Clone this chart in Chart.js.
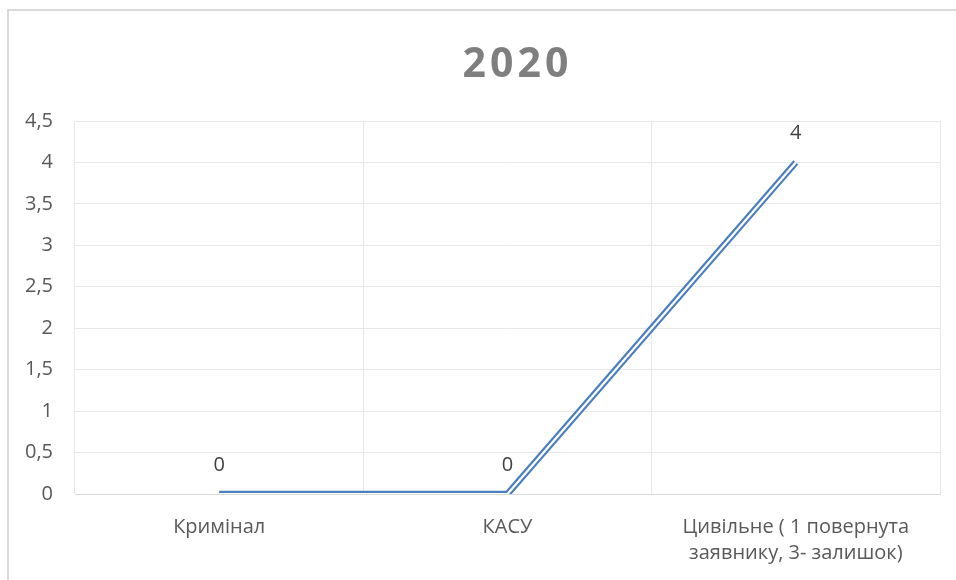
<!DOCTYPE html>
<html>
<head>
<meta charset="utf-8">
<script src="https://cdn.jsdelivr.net/npm/chart.js@4/dist/chart.umd.min.js"></script>
<style>
    body { margin: 0; background: #fff; }
    #frame { position: absolute; left: 7px; top: 9px; width: 960px; height: 590px; border: 2px solid #d9d9d9; box-sizing: border-box; }
    #wrap { position: absolute; left: 0; top: 0; width: 956px; height: 580px; }
</style>
</head>
<body>
<div id="frame"></div>
<div id="wrap"><canvas id="chart"></canvas></div>
<script>
// Data
const categories = ['Кримінал', 'КАСУ', ['Цивільне ( 1 повернута', 'заявнику, 3- залишок)']];
const values = [0, 0, 4];
const chartTitle = '2020';

const textColor = '#595959';
const gridColor = '#e8e8e8';
const lineBlue = '#4a7ebf';

// Title drawn by hand so it can sit a little right of centre, with letter spacing
const titleDraw = {
    id: 'titleDraw',
    afterDraw(chart) {
        const ctx = chart.ctx;
        const area = chart.chartArea;
        ctx.save();
        ctx.font = 'bold 41px "Open Sans"';
        ctx.letterSpacing = '4px';
        ctx.fillStyle = '#7f7f7f';
        ctx.textAlign = 'center';
        ctx.textBaseline = 'alphabetic';
        ctx.fillText(chartTitle, (area.left + area.right) / 2 + 10, 77);
        ctx.restore();
    }
};

// Value labels above points
const valueLabels = {
    id: 'valueLabels',
    afterDatasetsDraw(chart) {
        const ctx = chart.ctx;
        const meta = chart.getDatasetMeta(0);
        ctx.save();
        ctx.font = '20px "Open Sans"';
        ctx.fillStyle = '#404040';
        ctx.textAlign = 'center';
        ctx.textBaseline = 'middle';
        meta.data.forEach((pt, i) => {
            ctx.fillText(String(values[i]).replace('.', ','), pt.x, pt.y - 29);
        });
        ctx.restore();
    }
};

new Chart(document.getElementById('chart'), {
    type: 'line',
    data: {
        labels: categories,
        datasets: [{
            data: values,
            borderColor: '#fff',
            borderWidth: 2.2,
            pointRadius: 0,
            tension: 0,
            borderJoinStyle: 'miter',
            order: 0
        }, {
            data: values,
            borderColor: lineBlue,
            borderWidth: 6.5,
            pointRadius: 0,
            tension: 0,
            borderJoinStyle: 'miter',
            order: 1
        }]
    },
    options: {
        responsive: true,
        maintainAspectRatio: false,
        animation: false,
        layout: {
            padding: { left: 0, right: 16, top: 121, bottom: 0 }
        },
        plugins: {
            legend: { display: false },
            tooltip: { enabled: false },
            title: { display: false }
        },
        scales: {
            x: {
                offset: true,
                grid: { offset: true, color: gridColor, drawTicks: false },
                border: { color: '#d9d9d9' },
                ticks: {
                    color: textColor,
                    font: { family: '"Open Sans"', size: 20, lineHeight: 1.3 },
                    padding: 20,
                    maxRotation: 0,
                    autoSkip: false
                },
                afterFit: s => { s.height = 86; }
            },
            y: {
                min: 0,
                max: 4.5,
                grid: { color: gridColor, drawTicks: false },
                border: { display: false },
                ticks: {
                    stepSize: 0.5,
                    color: textColor,
                    font: { family: '"Open Sans"', size: 20 },
                    padding: 22,
                    callback: v => String(v).replace('.', ',')
                },
                afterFit: s => { s.width = 75; }
            }
        }
    },
    plugins: [valueLabels, titleDraw]
});
</script>
</body>
</html>
